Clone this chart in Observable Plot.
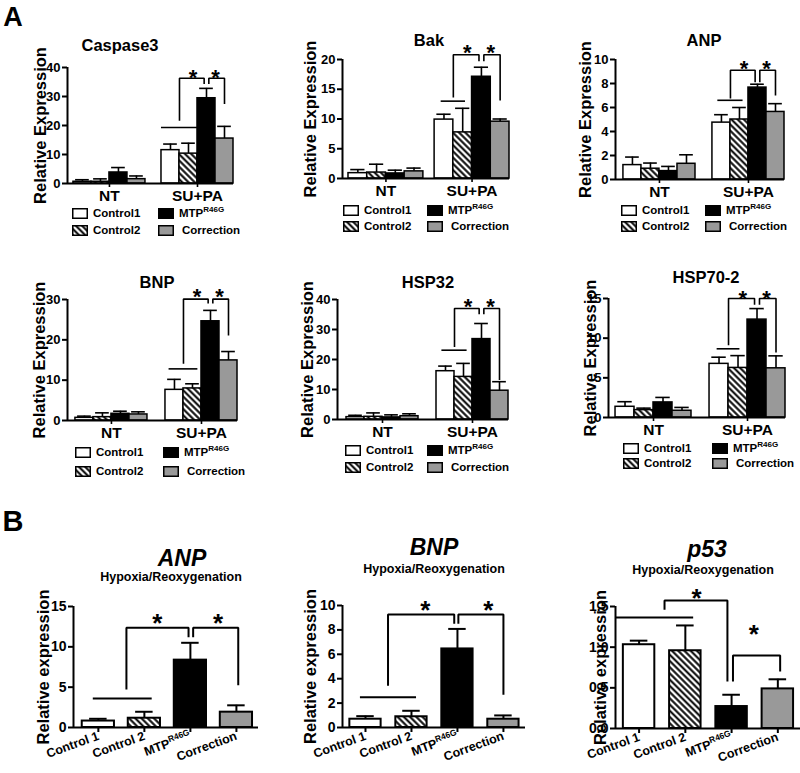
<!DOCTYPE html>
<html><head><meta charset="utf-8">
<script src="https://cdn.jsdelivr.net/npm/d3@7"></script>
<script src="https://cdn.jsdelivr.net/npm/@observablehq/plot@0.6"></script>
<style>
body{margin:0;background:#fff;font-family:"Liberation Sans",Arial,sans-serif;}
#root{position:relative;width:800px;height:773px;overflow:hidden;background:#fff;}
.t{position:absolute;white-space:nowrap;font-weight:bold;color:#000;line-height:1;}
.leg{position:absolute;display:flex;align-items:center;height:12px;font-weight:bold;font-size:11.5px;white-space:nowrap;}
.leg svg{margin-right:5px;}
sup{font-size:8px;line-height:0;}
</style></head><body>
<svg width="0" height="0" style="position:absolute"><defs>
<pattern id="hatch" patternUnits="userSpaceOnUse" width="4.4" height="4.4" patternTransform="rotate(-45)">
<rect width="4.4" height="4.4" fill="white"/>
<line x1="2.2" y1="0" x2="2.2" y2="4.4" stroke="black" stroke-width="2"/>
</pattern></defs></svg>
<div id="root"></div>
<script>
// ---------- data ----------
const seriesNames = ["Control1", "Control2", "MTPR46G", "Correction"];
const groupLabels = ["NT", "SU+PA"];
// 8 values per gene: NT (Control1, Control2, MTP, Correction), SU+PA (same order)
const caspase3Mean  = [0.6, 0.6, 3.8, 1.5, 11.5, 10.3, 29.4, 15.5];
const caspase3Upper = [1.3, 1.6, 5.5, 2.6, 13.6, 13.9, 32.8, 19.7];
const caspase3Ticks = [0, 10, 20, 30, 40];
const caspase3Sig   = [19.3, 21.6, 36.3, 34.3, 27.4, 38.9]; // pair line, leg1 bottom, bracket top, middle legs bottom, leg2 bottom, star level

const bakMean  = [0.9, 1.0, 0.85, 1.2, 9.9, 7.75, 17.1, 9.55];
const bakUpper = [1.5, 2.4, 1.4, 1.75, 10.8, 11.8, 18.7, 10.0];
const bakTicks = [0, 5, 10, 15, 20];
const bakSig   = [13.0, 13.6, 20.8, 19.7, 13.1, 22.3];

const anpMean  = [1.2, 0.9, 0.7, 1.31, 4.74, 5.0, 7.66, 5.63];
const anpUpper = [1.87, 1.37, 1.09, 2.06, 5.4, 6.0, 7.94, 6.32];
const anpTicks = [0, 2, 4, 6, 8, 10];
const anpSig   = [6.6, 6.75, 9.1, 8.1, 7.0, 9.8];

const bnpMean  = [0.66, 0.83, 1.66, 1.5, 7.6, 7.95, 24.6, 14.9];
const bnpUpper = [1.08, 1.9, 2.3, 2.15, 10.2, 9.1, 27.3, 17.1];
const bnpTicks = [0, 10, 20, 30];
const bnpSig   = [12.8, 14.1, 30.1, 29.0, 21.1, 32.3];

const hsp32Mean  = [0.78, 0.9, 0.7, 1.1, 16.1, 14.2, 26.8, 9.6];
const hsp32Upper = [1.4, 2.2, 1.55, 1.9, 17.8, 18.7, 32.0, 12.6];
const hsp32Ticks = [0, 10, 20, 30, 40];
const hsp32Sig   = [23.1, 24.2, 37.0, 35.1, 13.2, 39.8];

const hsp70Mean  = [1.35, 0.93, 1.9, 0.85, 6.76, 6.25, 12.34, 6.2];
const hsp70Upper = [1.99, 1.18, 2.53, 1.27, 7.6, 7.8, 13.73, 7.77];
const hsp70Ticks = [0, 5, 10, 15];
const hsp70Sig   = [8.66, 9.1, 15.0, 14.2, 8.2, 15.8];

// Panel B: Hypoxia/Reoxygenation
const hrLabels = ["Control 1", "Control 2", "MTPR46G", "Correction"];
const anpHRMean  = [0.8, 1.15, 8.35, 1.9];
const anpHRUpper = [1.08, 1.95, 10.5, 2.75];
const anpHRTicks = [0, 5, 10, 15];
const anpHRPair  = [-0.11, 1.17, 3.58];                 // x1, x2, level
const anpHRBrackets = [[0.61, 1.96, 4.7, 12.36, 11.2], [2.06, 3.04, 11.2, 12.36, 5.23]]; // x1, x2, left bottom, top, right bottom
const anpHRStars = [[1.28, 13.9], [2.6, 13.9]];

const bnpHRMean  = [0.68, 0.88, 6.44, 0.68];
const bnpHRUpper = [0.93, 1.37, 8.08, 0.99];
const bnpHRTicks = [0, 2, 4, 6, 8, 10];
const bnpHRPair  = [-0.11, 1.11, 2.47];
const bnpHRBrackets = [[0.49, 1.93, 3.42, 9.26, 8.5], [2.02, 3.0, 8.5, 9.26, 2.69]];
const bnpHRStars = [[1.3, 10.2], [2.67, 10.2]];

const p53HRMean  = [1.03, 0.956, 0.27, 0.487];
const p53HRUpper = [1.08, 1.267, 0.415, 0.605];
const p53HRTicks = [0, 0.5, 1.0, 1.5];
const p53HRPair  = [-0.49, 1.18, 1.365];
const p53HRBrackets = [[0.55, 1.91, 1.46, 1.574, 0.578], [2.03, 3.05, 0.578, 0.898, 0.70]];
const p53HRStars = [[1.24, 1.70], [2.48, 1.255]];

// ---------- styles ----------
const fills = ["white", "url(#hatch)", "black", "#999999"];
const FONT = "'Liberation Sans', Arial, sans-serif";
const root = document.getElementById("root");

function addText(html, cx, cy, css) {
  const d = document.createElement("div");
  d.className = "t";
  d.innerHTML = html;
  d.style.cssText += css;
  d.style.left = cx + "px"; d.style.top = cy + "px";
  d.style.transform = "translate(-50%,-50%)";
  root.appendChild(d);
}
function place(svg, left, top) {
  svg.style.position = "absolute";
  svg.style.left = left + "px"; svg.style.top = top + "px";
  root.appendChild(svg);
}
function superscript(svg) {
  d3.select(svg).selectAll("text").filter(function(){ return this.textContent === "MTPR46G"; })
    .each(function(){
      const t = d3.select(this); t.text(null);
      t.append("tspan").text("MTP");
      t.append("tspan").attr("font-size", "8.5").attr("baseline-shift", "super").text("R46G");
    });
}
function swatch(k) {
  return `<svg width="16" height="11"><rect x="0.75" y="0.75" width="14.5" height="9.5" fill="${fills[k]}" stroke="black" stroke-width="1.5"/></svg>`;
}
function nameHTML(k) {
  return k === 2 ? "MTP<sup>R46G</sup>" : seriesNames[k];
}
function legendA(c1, c2, r1, r2) {
  const pos = [[c1, r1], [c1, r2], [c2, r1], [c2, r2]];
  pos.forEach(([x, y], k) => {
    const d = document.createElement("div");
    d.className = "leg";
    d.innerHTML = swatch(k) + `<span style="${k===3?'margin-left:3px':''}">${nameHTML(k)}</span>`;
    d.style.left = x + "px"; d.style.top = (y - 6) + "px";
    root.appendChild(d);
  });
}

function panelA(mean, upper, ticks, sig, L) {
  const mL = 62, mR = 6, mT = 34, mB = 30;
  const gap = L.gap;
  const slot = i => (i < 4 ? i : i + gap);
  const rows = mean.map((m, i) => ({s: i % 4, x1: slot(i), x2: slot(i) + 1, xc: slot(i) + 0.5, m, u: upper[i]}));
  const ymax = ticks[ticks.length - 1];
  const b = 4 + gap;
  const [pairY, leg1B, top, midB, leg2B, starY] = sig;
  const xA = b + 1, xM = b + 2.5, xC = b + 3.5, eps = 0.13;
  const br = [
    {x: xA, y: leg1B, z: 0}, {x: xA, y: top, z: 0}, {x: xM - eps, y: top, z: 0}, {x: xM - eps, y: midB, z: 0},
    {x: xM + eps, y: midB, z: 1}, {x: xM + eps, y: top, z: 1}, {x: xC, y: top, z: 1}, {x: xC, y: leg2B, z: 1}
  ];
  const stars = [{x: (xA + xM) / 2, y: starY}, {x: (xM + xC) / 2, y: starY}];
  const gc = [2, b + 2];
  const marks = [];
  for (let k = 0; k < 4; k++)
    marks.push(Plot.rect(rows.filter(r => r.s === k), {x1: "x1", x2: "x2", y1: 0, y2: "m", fill: fills[k], stroke: "black", strokeWidth: 1.5}));
  marks.push(
    Plot.ruleX(rows, {x: "xc", y1: "m", y2: "u", strokeWidth: 1.6}),
    Plot.ruleY(rows, {y: "u", x1: d => d.xc - 0.38, x2: d => d.xc + 0.38, strokeWidth: 1.6}),
    Plot.ruleY([pairY], {x1: xA - L.pairHalf, x2: xA + L.pairHalf, strokeWidth: 1.6}),
    Plot.line(br, {x: "x", y: "y", z: "z", strokeWidth: 1.6, strokeLinejoin: "miter", strokeLinecap: "butt"}),
    Plot.text(stars, {x: "x", y: "y", text: () => "*", fontSize: 22, fontWeight: "bold", dy: 7}),
    Plot.ruleX([-L.pad], {y1: 0, y2: ymax, strokeWidth: 2}),
    Plot.ruleY([0], {strokeWidth: 2}),
    Plot.axisY({ticks, tickSize: 5, tickPadding: 2, strokeWidth: 2, fontSize: 13, fontWeight: "bold", label: null}),
    Plot.axisX({ticks: gc, tickFormat: d => groupLabels[gc.indexOf(d)], tickSize: 4, tickPadding: 2, strokeWidth: 1.6, fontSize: 15.5, fontWeight: "bold", label: null}),
    Plot.text(["Relative Expression"], {text: d => d, frameAnchor: "left", dx: -L.labelOff, rotate: -90, textAnchor: "middle", fontSize: 16.5, fontWeight: "bold"})
  );
  const svg = Plot.plot({
    width: mL + (L.xR - L.xL) + mR, height: mT + (L.yB - L.yT) + mB,
    marginLeft: mL, marginRight: mR, marginTop: mT, marginBottom: mB,
    x: {domain: [-L.pad, 8 + gap], axis: null},
    y: {domain: [0, ymax], axis: null},
    style: {fontFamily: FONT, color: "black", background: "transparent", overflow: "visible"},
    marks
  });
  place(svg, L.xL - mL, L.yT - mT);
  addText(L.title, L.tx, L.ty, "font-size:16.5px;");
  legendA(L.c1, L.c2, L.r1, L.r2);
}

function panelB(mean, upper, ticks, pair, brackets, starsD, L) {
  const mL = 62, mR = L.mR, mT = 40, mB = 56;
  const rows = mean.map((m, i) => ({s: i, x1: i - L.hw, x2: i + L.hw, xc: i, m, u: upper[i]}));
  const ymax = ticks[ticks.length - 1];
  const br = [];
  brackets.forEach(([x1, x2, b1, top, b2], z) => {
    br.push({x: x1, y: b1, z}, {x: x1, y: top, z}, {x: x2, y: top, z}, {x: x2, y: b2, z});
  });
  const stars = starsD.map(([x, y]) => ({x, y}));
  const marks = [];
  for (let k = 0; k < 4; k++)
    marks.push(Plot.rect(rows.filter(r => r.s === k), {x1: "x1", x2: "x2", y1: 0, y2: "m", fill: fills[k], stroke: "black", strokeWidth: 2}));
  marks.push(
    Plot.ruleX(rows, {x: "xc", y1: "m", y2: "u", strokeWidth: 2}),
    Plot.ruleY(rows, {y: "u", x1: d => d.xc - 0.19, x2: d => d.xc + 0.19, strokeWidth: 2}),
    Plot.ruleY([pair[2]], {x1: pair[0], x2: pair[1], strokeWidth: 2}),
    Plot.line(br, {x: "x", y: "y", z: "z", strokeWidth: 2, strokeLinejoin: "miter", strokeLinecap: "butt"}),
    Plot.text(stars, {x: "x", y: "y", text: () => "*", fontSize: 26, fontWeight: "bold", dy: 8}),
    Plot.ruleX([L.dom[0]], {y1: 0, y2: ymax, strokeWidth: 2}),
    Plot.ruleY([0], {strokeWidth: 2}),
    Plot.axisY({ticks, tickFormat: L.fmt, tickSize: 5, tickPadding: 2, strokeWidth: 2, fontSize: 14, fontWeight: "bold", label: null}),
    Plot.axisX({ticks: [0, 1, 2, 3], tickFormat: i => hrLabels[i], tickRotate: -20, tickSize: 5, tickPadding: 3, strokeWidth: 2, fontSize: 12.5, fontWeight: "bold", label: null}),
    Plot.text(["Relative expression"], {text: d => d, frameAnchor: "left", dx: -L.labelOff, rotate: -90, textAnchor: "middle", fontSize: 16.5, fontWeight: "bold"})
  );
  const svg = Plot.plot({
    width: mL + (L.xR - L.xL) + mR, height: mT + (L.yB - L.yT) + mB,
    marginLeft: mL, marginRight: mR, marginTop: mT, marginBottom: mB,
    x: {domain: L.dom, axis: null},
    y: {domain: [0, ymax], axis: null},
    style: {fontFamily: FONT, color: "black", background: "transparent", overflow: "visible"},
    marks
  });
  superscript(svg);
  place(svg, L.xL - mL, L.yT - mT);
  addText(L.title, L.tx, L.ty, "font-size:23px;font-style:italic;");
  addText("Hypoxia/Reoxygenation", L.sx, L.sy, "font-size:12.5px;");
}

// ---------- layout ----------
addText("A", 13, 17, "font-size:27px;");
addText("B", 13, 521, "font-size:29px;");

panelA(caspase3Mean, caspase3Upper, caspase3Ticks, caspase3Sig,
  {xL: 67, xR: 233, yT: 67, yB: 183, gap: 0.89, pad: 0.33, labelOff: 27, pairHalf: 1.0, title: "Caspase3", tx: 120, ty: 45, c1: 72, c2: 158, r1: 213, r2: 230});
panelA(bakMean, bakUpper, bakTicks, bakSig,
  {xL: 342, xR: 509, yT: 59, yB: 178, gap: 0.6, pad: 0.32, labelOff: 32, pairHalf: 0.65, title: "Bak", tx: 429, ty: 40, c1: 343, c2: 427, r1: 210, r2: 226});
panelA(anpMean, anpUpper, anpTicks, anpSig,
  {xL: 615, xR: 784, yT: 59, yB: 179, gap: 0.94, pad: 0.44, labelOff: 30, pairHalf: 0.7, title: "ANP", tx: 704, ty: 40, c1: 621, c2: 705, r1: 210, r2: 226});
panelA(bnpMean, bnpUpper, bnpTicks, bnpSig,
  {xL: 67, xR: 237, yT: 299, yB: 420, gap: 1.0, pad: 0.44, labelOff: 28, pairHalf: 0.8, title: "BNP", tx: 157, ty: 282, c1: 75, c2: 163, r1: 452, r2: 471});
panelA(hsp32Mean, hsp32Upper, hsp32Ticks, hsp32Sig,
  {xL: 337, xR: 508, yT: 299, yB: 419, gap: 1.0, pad: 0.5, labelOff: 30, pairHalf: 0.7, title: "HSP32", tx: 428, ty: 282, c1: 345, c2: 427, r1: 450, r2: 467});
panelA(hsp70Mean, hsp70Upper, hsp70Ticks, hsp70Sig,
  {xL: 608, xR: 785, yT: 298, yB: 417, gap: 0.95, pad: 0.37, labelOff: 18, pairHalf: 0.6, title: "HSP70-2", tx: 706, ty: 277, c1: 623, c2: 712, r1: 448, r2: 463});

panelB(anpHRMean, anpHRUpper, anpHRTicks, anpHRPair, anpHRBrackets, anpHRStars,
  {xL: 73, xR: 258, yT: 606, yB: 727, mR: 4, dom: [-0.54, 3.48], hw: 0.35, labelOff: 30, fmt: d => String(d), title: "ANP", tx: 182, ty: 558, sx: 171, sy: 577});
panelB(bnpHRMean, bnpHRUpper, bnpHRTicks, bnpHRPair, bnpHRBrackets, bnpHRStars,
  {xL: 342, xR: 525, yT: 605, yB: 727, mR: 4, dom: [-0.5, 3.48], hw: 0.34, labelOff: 32, fmt: d => String(d), title: "BNP", tx: 434, ty: 547, sx: 434, sy: 569});
panelB(p53HRMean, p53HRUpper, p53HRTicks, p53HRPair, p53HRBrackets, p53HRStars,
  {xL: 615, xR: 800, yT: 606, yB: 728, mR: 0, dom: [-0.51, 3.49], hw: 0.34, labelOff: 15, fmt: d3.format(".1f"), title: "p53", tx: 707, ty: 549, sx: 703, sy: 570});
</script>
</body></html>
